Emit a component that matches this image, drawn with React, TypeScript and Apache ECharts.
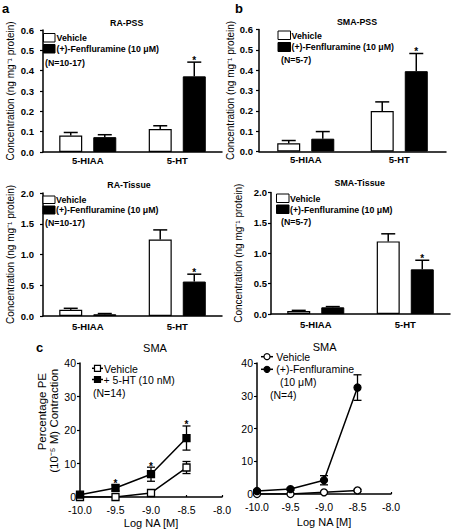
import React, { useEffect, useRef } from 'react';
import * as echarts from 'echarts';

// ---------- data ----------
const barCategories = ['5-HIAA', '5-HT'];

const raPssVehicle = [0.081, 0.113];
const raPssVehicleSem = [0.015, 0.016];
const raPssFen = [0.073, 0.372];
const raPssFenSem = [0.012, 0.07];
const raPssFenSig = [false, true];

const smaPssVehicle = [0.04, 0.199];
const smaPssVehicleSem = [0.014, 0.045];
const smaPssFen = [0.063, 0.395];
const smaPssFenSem = [0.035, 0.087];
const smaPssFenSig = [false, true];

const raTissueVehicle = [0.1, 1.245];
const raTissueVehicleSem = [0.025, 0.155];
const raTissueFen = [0.028, 0.56];
const raTissueFenSem = [0.012, 0.12];
const raTissueFenSig = [false, true];

const smaTissueVehicle = [0.05, 1.195];
const smaTissueVehicleSem = [0.01, 0.125];
const smaTissueFen = [0.11, 0.735];
const smaTissueFenSem = [0.012, 0.15];
const smaTissueFenSig = [false, true];

const logNA = [-10, -9.5, -9, -8.5];

const smaVehicle = [0, 0, 1.2, 8.8];
const smaVehicleSem = [0, 0, 0.3, 1.8];
const sma5ht = [0.7, 2.7, 6.8, 17.6];
const sma5htSem = [0.3, 0.9, 2.1, 3.6];
const sma5htSig = [false, true, true, true];

const fenVehicle = [0, 0, 0.5, 1.1];
const fenVehicleSem = [0, 0, 0.2, 0.3];
const fenFen = [0.9, 1.5, 4.2, 32.5];
const fenFenSem = [0.3, 0.3, 1.4, 3.9];

const FONT = 'Liberation Sans, Arial, Helvetica, sans-serif';
const BAR_W = 23;
const BAR_GAP = 0.48;
const BAR_OFF = (BAR_W + BAR_W * BAR_GAP) / 2;

const yName = 'Concentration (ng mg\u207B\u00B9 protein)';

function barXAxis(gi: number, margin: number) {
  return {
    type: 'category',
    gridIndex: gi,
    data: barCategories,
    axisLine: { lineStyle: { color: '#000', width: 1.5 } },
    axisTick: { alignWithLabel: true, length: 3, lineStyle: { color: '#000', width: 1.2 } },
    axisLabel: { color: '#000', fontWeight: 'bold', fontSize: 9.5, fontFamily: FONT, margin },
  };
}

function barYAxis(gi: number, max: number, interval: number, gap: number, margin: number) {
  return {
    type: 'value',
    gridIndex: gi,
    min: 0,
    max,
    interval,
    axisLine: { show: true, lineStyle: { color: '#000', width: 1.5 } },
    axisTick: { show: true, length: 3, lineStyle: { color: '#000', width: 1.2 } },
    splitLine: { show: false },
    axisLabel: {
      color: '#000',
      fontWeight: 'bold',
      fontSize: 9.5,
      fontFamily: FONT,
      margin,
      formatter: (v: number) => v.toFixed(1),
    },
    name: yName,
    nameLocation: 'middle',
    nameGap: gap,
    nameTextStyle: { color: '#000', fontSize: 10, fontFamily: FONT },
  };
}

function barSeries(gi: number, veh: number[], vehSem: number[], fen: number[], fenSem: number[], sig: boolean[]) {
  const errSeries = (vals: number[], sem: number[], flags: boolean[], off: number) => ({
    type: 'custom',
    xAxisIndex: gi,
    yAxisIndex: gi,
    z: 5,
    data: vals.map((v, i) => [i, v, v + sem[i], flags[i] ? 1 : 0]),
    renderItem: (params: any, api: any) => {
      const base = api.coord([api.value(0), api.value(1)]);
      const top = api.coord([api.value(0), api.value(2)]);
      const cx = base[0] + off;
      const children: any[] = [
        { type: 'line', shape: { x1: cx, y1: base[1], x2: cx, y2: top[1] }, style: { stroke: '#000', lineWidth: 1.5 } },
        { type: 'line', shape: { x1: cx - 7, y1: top[1], x2: cx + 7, y2: top[1] }, style: { stroke: '#000', lineWidth: 1.5 } },
      ];
      if (api.value(3)) {
        children.push({
          type: 'text',
          x: cx,
          y: top[1] - 2,
          style: { text: '*', fill: '#000', font: `bold 10px ${FONT}`, textAlign: 'center', textVerticalAlign: 'middle' },
        });
      }
      return { type: 'group', children };
    },
  });
  return [
    {
      type: 'bar',
      xAxisIndex: gi,
      yAxisIndex: gi,
      data: veh,
      barWidth: BAR_W,
      barGap: `${BAR_GAP * 100}%`,
      itemStyle: { color: '#fff', borderColor: '#000', borderWidth: 1.2 },
    },
    {
      type: 'bar',
      xAxisIndex: gi,
      yAxisIndex: gi,
      data: fen,
      barWidth: BAR_W,
      barGap: `${BAR_GAP * 100}%`,
      itemStyle: { color: '#000', borderColor: '#000', borderWidth: 1 },
    },
    errSeries(veh, vehSem, veh.map(() => false), -BAR_OFF),
    errSeries(fen, fenSem, sig, BAR_OFF),
  ];
}

function lineXAxis(gi: number, gap: number) {
  return {
    type: 'value',
    gridIndex: gi,
    min: -10,
    max: -8,
    interval: 0.5,
    axisLine: { onZero: false, lineStyle: { color: '#000', width: 1.5 } },
    axisTick: { show: true, inside: true, length: 2, lineStyle: { color: '#000', width: 1.2 } },
    splitLine: { show: false },
    axisLabel: { color: '#000', fontSize: 10.5, fontFamily: FONT, margin: 7, formatter: (v: number) => v.toFixed(1) },
    name: 'Log NA [M]',
    nameLocation: 'middle',
    nameGap: gap,
    nameTextStyle: { color: '#000', fontSize: 11, fontFamily: FONT },
  };
}

function lineYAxis(gi: number) {
  return {
    type: 'value',
    gridIndex: gi,
    min: 0,
    max: 40,
    interval: 10,
    axisLine: { show: true, onZero: false, lineStyle: { color: '#000', width: 1.5 } },
    axisTick: { show: true, length: 3, lineStyle: { color: '#000', width: 1.2 } },
    splitLine: { show: false },
    axisLabel: { color: '#000', fontSize: 10.5, fontFamily: FONT, margin: 4 },
  };
}

function lineSeries(gi: number, vals: number[], sem: number[], sig: boolean[], symbol: string, filled: boolean) {
  return [
    {
      type: 'custom',
      xAxisIndex: gi,
      yAxisIndex: gi,
      z: 1,
      data: vals.map((v, i) => [logNA[i], v - sem[i], v + sem[i], sig[i] ? 1 : 0]),
      renderItem: (params: any, api: any) => {
        const lo = api.coord([api.value(0), api.value(1)]);
        const hi = api.coord([api.value(0), api.value(2)]);
        const children: any[] = [];
        if (lo[1] - hi[1] > 1) {
          children.push(
            { type: 'line', shape: { x1: hi[0], y1: lo[1], x2: hi[0], y2: hi[1] }, style: { stroke: '#000', lineWidth: 1.3 } },
            { type: 'line', shape: { x1: hi[0] - 4, y1: hi[1], x2: hi[0] + 4, y2: hi[1] }, style: { stroke: '#000', lineWidth: 1.3 } },
            { type: 'line', shape: { x1: lo[0] - 4, y1: lo[1], x2: lo[0] + 4, y2: lo[1] }, style: { stroke: '#000', lineWidth: 1.3 } },
          );
        }
        if (api.value(3)) {
          children.push({
            type: 'text',
            x: hi[0],
            y: hi[1] - 1,
            style: { text: '*', fill: '#000', font: `bold 10px ${FONT}`, textAlign: 'center', textVerticalAlign: 'middle' },
          });
        }
        return { type: 'group', children };
      },
    },
    {
      type: 'line',
      xAxisIndex: gi,
      yAxisIndex: gi,
      z: 3,
      data: vals.map((v, i) => [logNA[i], v]),
      symbol,
      symbolSize: 7,
      showAllSymbol: true,
      lineStyle: { color: '#000', width: 1.5 },
      itemStyle: { color: filled ? '#000' : '#fff', borderColor: '#000', borderWidth: 1.3 },
    },
  ];
}

function txt(text: string, x: number, y: number, font: string, align = 'left') {
  return { type: 'text', x, y, z: 10, style: { text, fill: '#000', font, textAlign: align, textVerticalAlign: 'middle' } };
}

function legendRect(x: number, y: number, w: number, h: number, filled: boolean) {
  return {
    type: 'rect',
    z: 10,
    shape: { x, y, width: w, height: h },
    style: { fill: filled ? '#000' : '#fff', stroke: '#000', lineWidth: 1 },
  };
}

function legendSymbol(x1: number, x2: number, y: number, shape: 'square' | 'circle', filled: boolean) {
  const cx = (x1 + x2) / 2;
  const sym =
    shape === 'square'
      ? { type: 'rect', z: 11, shape: { x: cx - 3, y: y - 3, width: 6, height: 6 }, style: { fill: filled ? '#000' : '#fff', stroke: '#000', lineWidth: 1.2 } }
      : { type: 'circle', z: 11, shape: { cx, cy: y, r: 3 }, style: { fill: filled ? '#000' : '#fff', stroke: '#000', lineWidth: 1.2 } };
  return [
    { type: 'line', z: 10, shape: { x1, y1: y, x2, y2: y }, style: { stroke: '#000', lineWidth: 1.5 } },
    sym,
  ];
}

const BOLD_LEG = `bold 8.8px ${FONT}`;
const BOLD_TITLE = `bold 8.8px ${FONT}`;
const LETTER = `bold 13px ${FONT}`;
const REG_LEG = `10.5px ${FONT}`;
const REG_TITLE = `11px ${FONT}`;
const REG_AXIS = `11.5px ${FONT}`;

export default function App() {
  const ref = useRef<HTMLDivElement>(null);
  useEffect(() => {
    if (!ref.current) return;
    const chart = echarts.init(ref.current, undefined, { renderer: 'svg' });
    const option: any = {
      animation: false,
      backgroundColor: '#fff',
      grid: [
        { left: 43, top: 30, width: 179, height: 122 },
        { left: 259, top: 29.5, width: 187, height: 122 },
        { left: 43, top: 193, width: 179, height: 123 },
        { left: 271, top: 192.5, width: 179, height: 121.5 },
        { left: 80, top: 363, width: 142, height: 134 },
        { left: 257, top: 363, width: 134, height: 131 },
      ],
      xAxis: [
        barXAxis(0, 3),
        barXAxis(1, 3),
        barXAxis(2, 5),
        barXAxis(3, 5),
        lineXAxis(4, 20),
        lineXAxis(5, 22),
      ],
      yAxis: [
        barYAxis(0, 0.6, 0.1, 28, 9),
        barYAxis(1, 0.6, 0.1, 18, 6),
        barYAxis(2, 2, 0.5, 28, 9),
        barYAxis(3, 2, 0.5, 28, 4),
        lineYAxis(4),
        lineYAxis(5),
      ],
      series: [
        ...barSeries(0, raPssVehicle, raPssVehicleSem, raPssFen, raPssFenSem, raPssFenSig),
        ...barSeries(1, smaPssVehicle, smaPssVehicleSem, smaPssFen, smaPssFenSem, smaPssFenSig),
        ...barSeries(2, raTissueVehicle, raTissueVehicleSem, raTissueFen, raTissueFenSem, raTissueFenSig),
        ...barSeries(3, smaTissueVehicle, smaTissueVehicleSem, smaTissueFen, smaTissueFenSem, smaTissueFenSig),
        ...lineSeries(4, smaVehicle, smaVehicleSem, [false, false, false, false], 'rect', false),
        ...lineSeries(4, sma5ht, sma5htSem, sma5htSig, 'rect', true),
        ...lineSeries(5, fenVehicle, fenVehicleSem, [false, false, false, false], 'circle', false),
        ...lineSeries(5, fenFen, fenFenSem, [false, false, false, false], 'circle', true),
      ],
      graphic: [
        // panel a
        txt('a', 2, 8, LETTER),
        txt('RA-PSS', 126.7, 23.3, BOLD_TITLE, 'center'),
        legendRect(43.5, 33.5, 11.5, 8.5, false),
        legendRect(43.5, 44.5, 11.5, 8.5, true),
        txt('Vehicle', 56.5, 38, BOLD_LEG),
        txt('(+)-Fenfluramine (10 \u03BCM)', 56.5, 49, BOLD_LEG),
        txt('(N=10-17)', 45, 62.5, BOLD_LEG),
        // panel b
        txt('b', 235, 8, LETTER),
        txt('SMA-PSS', 357, 21.7, BOLD_TITLE, 'center'),
        legendRect(278, 31, 12.5, 8.5, false),
        legendRect(278, 42.5, 12.5, 9, true),
        txt('Vehicle', 291.5, 35.5, BOLD_LEG),
        txt('(+)-Fenfluramine (10 \u03BCM)', 291.5, 47, BOLD_LEG),
        txt('(N=5-7)', 281, 60, BOLD_LEG),
        // panel a bottom
        txt('RA-Tissue', 129, 185, BOLD_TITLE, 'center'),
        legendRect(43, 196, 12, 7.5, false),
        legendRect(43, 206, 12, 8, true),
        txt('Vehicle', 56, 199.8, BOLD_LEG),
        txt('(+)-Fenfluramine (10 \u03BCM)', 56, 210.2, BOLD_LEG),
        txt('(N=10-17)', 45, 223, BOLD_LEG),
        // panel b bottom
        txt('SMA-Tissue', 359.7, 183.3, BOLD_TITLE, 'center'),
        legendRect(276.5, 194, 12.5, 8.5, false),
        legendRect(276.5, 205, 12.5, 8.5, true),
        txt('Vehicle', 290, 198.5, BOLD_LEG),
        txt('(+)-Fenfluramine (10 \u03BCM)', 290, 209.5, BOLD_LEG),
        txt('(N=5-7)', 281, 222, BOLD_LEG),
        // panel c left
        txt('c', 36, 347, LETTER),
        txt('SMA', 155, 348.3, REG_TITLE, 'center'),
        ...legendSymbol(92, 103, 368.3, 'square', false),
        ...legendSymbol(92, 103, 379.5, 'square', true),
        txt('Vehicle', 104, 368.5, REG_LEG),
        txt('+ 5-HT (10 nM)', 103.5, 379.5, REG_LEG),
        txt('(N=14)', 93, 393.3, REG_LEG),
        {
          type: 'text',
          x: 41.7,
          y: 411.7,
          rotation: Math.PI / 2,
          style: { text: 'Percentage PE', fill: '#000', font: REG_AXIS, textAlign: 'center', textVerticalAlign: 'middle' },
        },
        {
          type: 'text',
          x: 53.5,
          y: 420.8,
          rotation: Math.PI / 2,
          style: { text: '(10\u207B\u2075 M) Contraction', fill: '#000', font: REG_AXIS, textAlign: 'center', textVerticalAlign: 'middle' },
        },
        // panel c right
        txt('SMA', 324.7, 346.7, REG_TITLE, 'center'),
        ...legendSymbol(261, 273, 356.7, 'circle', false),
        ...legendSymbol(261, 273, 369.3, 'circle', true),
        txt('Vehicle', 276.3, 357, REG_LEG),
        txt('(+)-Fenfluramine', 276.3, 369.3, REG_LEG),
        txt('(10 \u03BCM)', 280, 382, REG_LEG),
        txt('(N=4)', 270, 395, REG_LEG),
      ],
    };
    chart.setOption(option);
    return () => chart.dispose();
  }, []);
  return (
    <div
      ref={ref}
      style={{ position: 'fixed', left: 0, top: 0, width: 457, height: 532, background: '#fff' }}
    />
  );
}
